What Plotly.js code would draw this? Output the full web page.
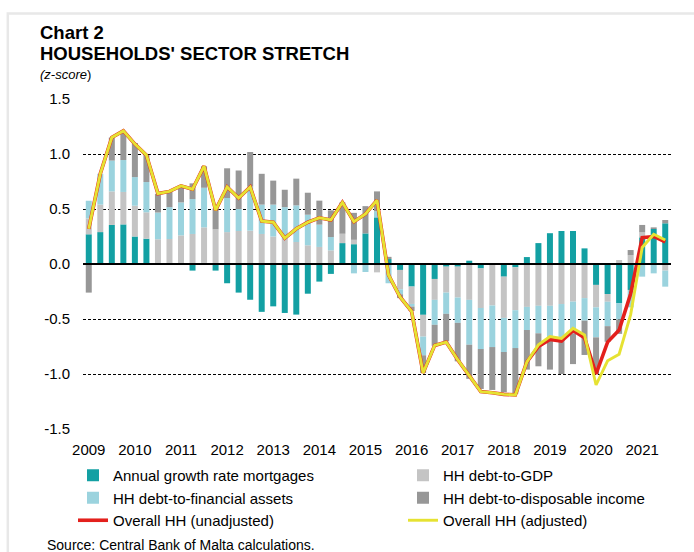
<!DOCTYPE html>
<html>
<head>
<meta charset="utf-8">
<script src="https://cdn.plot.ly/plotly-3.0.1.min.js"></script>
<style>
html, body { margin: 0; padding: 0; background: #ffffff; }
#chart { width: 694px; height: 552px; }
</style>
</head>
<body>
<div id="chart"></div>
<script>
// ---- Data (z-scores, quarterly 2009Q1 - 2021Q3) ----
const years = ['2009','2010','2011','2012','2013','2014','2015','2016','2017','2018','2019','2020','2021'];
const quarterNames = ['Q1','Q2','Q3','Q4'];
const quarters = [];
years.forEach(y => quarterNames.forEach(q => quarters.push(y + q)));
quarters.length = 51;

const mortgages = [0.27,0.29,0.355,0.36,0.25,0.23,0,0,0,-0.06,0.01,-0.06,-0.175,-0.26,-0.325,-0.435,-0.385,-0.445,-0.46,-0.27,-0.16,-0.09,0.19,0.18,0.278,0.424,0.045,-0.054,-0.205,-0.462,-0.136,-0.024,-0.024,0.03,-0.04,-0.005,-0.115,-0.03,0.063,0.19,0.28,0.30,0.30,0.142,-0.19,-0.273,-0.355,-0.236,0.242,0.318,0.37];
const debtToGDP = [0.145,0.25,0.305,0.295,0.28,0.24,0.225,0.227,0.26,0.273,0.323,0.315,0.29,0.30,0.303,0.273,0.25,0.227,0.20,0.17,0.155,0.124,0.085,0.04,0,-0.076,0,-0.176,-0.158,-0.198,-0.19,-0.236,-0.281,-0.326,-0.36,-0.372,-0.375,-0.39,-0.39,-0.38,-0.38,-0.364,-0.342,-0.31,-0.204,-0.07,0.036,0.08,0.046,0,-0.06];
const debtToFinAssets = [0.16,0.28,0.28,0.29,0.26,0.275,0.243,0.29,0.30,0.317,0.36,0,0.31,0.20,0.40,0.267,0.29,0.29,0.333,0.278,0.203,0.121,0,-0.085,-0.073,0.056,-0.175,-0.045,-0.024,-0.17,-0.227,-0.193,-0.23,-0.408,-0.373,-0.378,-0.31,-0.344,-0.21,-0.25,-0.295,-0.326,-0.288,-0.205,-0.273,-0.222,-0.15,-0.158,-0.115,-0.085,-0.146];
const debtToDispIncome = [-0.26,0,0.21,0.255,0.31,0.245,0.17,0.15,0.158,0.143,0.196,0.19,0.27,0.35,0.315,0.28,0.218,0.158,0.243,0.20,0.218,0.243,0.285,0.245,0.248,0.18,0.02,-0.035,-0.04,-0.16,-0.19,-0.25,-0.35,-0.31,-0.363,-0.39,-0.366,-0.414,-0.36,-0.30,-0.285,-0.31,-0.28,-0.312,-0.333,-0.142,-0.13,0.047,0.067,0.015,0.03];
const overallUnadjusted = [0.32,0.82,1.15,1.21,1.09,0.99,0.64,0.66,0.71,0.68,0.89,0.49,0.70,0.60,0.70,0.39,0.38,0.235,0.32,0.38,0.42,0.40,0.56,0.385,0.455,0.58,-0.10,-0.30,-0.43,-0.99,-0.74,-0.71,-0.87,-1.02,-1.16,-1.17,-1.185,-1.19,-0.89,-0.75,-0.685,-0.70,-0.605,-0.67,-1.00,-0.71,-0.60,-0.27,0.24,0.25,0.20];
const overallAdjusted = [0.32,0.82,1.15,1.21,1.09,0.99,0.64,0.66,0.71,0.68,0.89,0.49,0.70,0.60,0.70,0.39,0.38,0.235,0.32,0.38,0.42,0.40,0.56,0.385,0.455,0.58,-0.10,-0.30,-0.43,-0.99,-0.74,-0.71,-0.87,-1.02,-1.16,-1.17,-1.185,-1.19,-0.89,-0.735,-0.66,-0.676,-0.585,-0.645,-1.10,-0.88,-0.82,-0.46,0.15,0.27,0.218];

const yTickVals = [-1.5,-1.0,-0.5,0,0.5,1.0,1.5];
const yTickText = ['-1.5','-1.0','-0.5','0.0','0.5','1.0','1.5'];

// ---- Styling ----
const FONT = 'Arial, "Liberation Sans", sans-serif';
const colors = {
  mortgages: '#13a0a3',
  gdp: '#c4c4c4',
  fin: '#9bd3de',
  disp: '#979797',
  unadj: '#e3201c',
  adj: '#e6e232'
};

const barTrace = (name, y, color, legend) => ({
  type: 'bar', name: name, x: quarters, y: y, legend: legend,
  marker: { color: color, line: { width: 0 } },
  hoverinfo: 'skip'
});

const traces = [
  barTrace('Annual growth rate mortgages', mortgages, colors.mortgages, 'legend'),
  barTrace('HH debt-to-GDP', debtToGDP, colors.gdp, 'legend2'),
  barTrace('HH debt-to-financial assets', debtToFinAssets, colors.fin, 'legend'),
  barTrace('HH debt-to-disposable income', debtToDispIncome, colors.disp, 'legend2'),
  { type: 'scatter', mode: 'lines', name: 'Overall HH (unadjusted)', x: quarters, y: overallUnadjusted,
    legend: 'legend', line: { color: colors.unadj, width: 3.6 }, hoverinfo: 'skip' },
  { type: 'scatter', mode: 'lines', name: 'Overall HH (adjusted)', x: quarters, y: overallAdjusted,
    legend: 'legend2', line: { color: colors.adj, width: 2.9 }, hoverinfo: 'skip' }
];

// plot area: x 83..671, y 99..429
const L = 83, R = 671, T = 99, B = 429;
const W = R - L, H = B - T;
const px = v => (v - L) / W;
const py = v => (B - v) / H;

const legendBase = {
  orientation: 'v',
  xanchor: 'left',
  y: py(459), yanchor: 'top',
  font: { family: FONT, size: 15, color: '#000000' },
  bgcolor: 'rgba(0,0,0,0)',
  traceorder: 'normal',
  tracegroupgap: 0,
  itemwidth: 30
};

const layout = {
  width: 694, height: 552,
  margin: { l: L, r: 694 - R, t: T, b: 552 - B, pad: 0 },
  paper_bgcolor: '#ffffff', plot_bgcolor: '#ffffff',
  font: { family: FONT, color: '#000000', size: 15 },
  barmode: 'relative',
  bargap: 0.48,
  showlegend: true,
  title: {
    text: '<b>Chart 2</b>',
    font: { family: FONT, size: 18.5, color: '#000000' },
    x: 40 / 694, xanchor: 'left', xref: 'container',
    y: 1 - 33 / 552, yanchor: 'middle', yref: 'container'
  },
  xaxis: {
    type: 'category',
    range: [-0.5, 50.5],
    tickmode: 'array',
    tickvals: years.map(y => y + 'Q1'),
    ticktext: years,
    showgrid: false, zeroline: false, showline: false, ticks: '',
    tickfont: { family: FONT, size: 15, color: '#000000' },
    ticklabelstandoff: 10,
    fixedrange: true
  },
  yaxis: {
    range: [-1.5, 1.5],
    tickmode: 'array',
    tickvals: yTickVals,
    ticktext: yTickText,
    showgrid: true, gridcolor: '#000000', gridwidth: 1, griddash: '3px,2px',
    zeroline: false, showline: false, ticks: '',
    tickfont: { family: FONT, size: 15, color: '#000000' },
    ticklabelstandoff: 12,
    fixedrange: true
  },
  legend: Object.assign({}, legendBase, { x: px(73) }),
  legend2: Object.assign({}, legendBase, { x: px(403) }),
  shapes: [
    { type: 'line', xref: 'paper', yref: 'y', x0: 0, x1: 1, y0: 0, y1: 0,
      line: { color: '#000000', width: 2 }, layer: 'above' },
    { type: 'rect', xref: 'paper', yref: 'paper', x0: px(7.8), x1: px(720), y0: py(13.5), y1: py(600),
      line: { color: '#e8e8e8', width: 2.5 }, fillcolor: 'rgba(0,0,0,0)', layer: 'below' }
  ],
  annotations: [
    { text: "<b>HOUSEHOLDS' SECTOR STRETCH</b>", xref: 'paper', yref: 'paper',
      x: px(38), xanchor: 'left', y: py(53.5), yanchor: 'middle', showarrow: false,
      font: { family: FONT, size: 18.5, color: '#000000' } },
    { text: '<i>(z-score</i>)', xref: 'paper', yref: 'paper',
      x: px(38), xanchor: 'left', y: py(74), yanchor: 'middle', showarrow: false,
      font: { family: FONT, size: 13, color: '#000000' } },
    { text: 'Source: Central Bank of Malta calculations.', xref: 'paper', yref: 'paper',
      x: px(45), xanchor: 'left', y: py(545), yanchor: 'middle', showarrow: false,
      font: { family: FONT, size: 14, color: '#000000' } }
  ]
};

Plotly.newPlot('chart', traces, layout, { staticPlot: true, displayModeBar: false });
</script>
</body>
</html>
